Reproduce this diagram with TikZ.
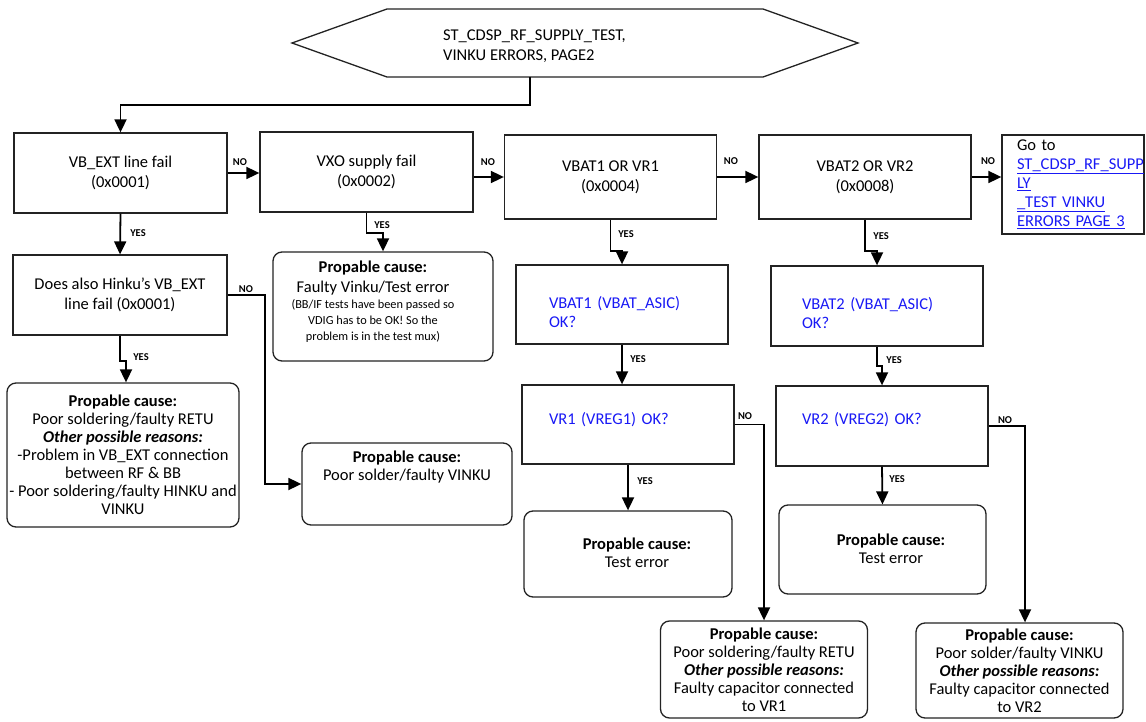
\documentclass[tikz,border=0pt]{standalone}
\usepackage{fontspec}
\setmainfont{Carlito}
\usetikzlibrary{arrows.meta,calc}
\definecolor{linkblue}{RGB}{25,25,245}
\definecolor{frame}{RGB}{35,35,35}
\newcommand\mainsz{\fontsize{16.5}{18}\selectfont}
\newcommand\notesz{\fontsize{12.3}{16}\selectfont}
\newcommand\lnk[1]{\underline{#1}}

\begin{document}
\begin{tikzpicture}[x=1pt,y=-1pt,
  box/.style={draw=frame,line width=1.3pt,inner sep=0pt,align=center,font=\mainsz},
  cause/.style={box,rounded corners=9pt},
  txt/.style={inner sep=0pt,align=center,font=\mainsz},
  bluetxt/.style={inner sep=0pt,align=left,font=\mainsz,text=linkblue},
  arr/.style={draw=black,line width=1.8pt,-{Triangle[width=12pt,length=13pt]}},
  lab/.style={inner sep=0pt,font=\bfseries\fontsize{10.5}{12}\selectfont}]

\useasboundingbox (0,0) rectangle (1146,722);

% start terminator
\draw[draw=frame,line width=1.3pt] (292,43) -- (387,9) -- (763,9) -- (858,43) -- (763,77) -- (387,77) -- cycle;
\node[txt,align=left,anchor=west] (title) at (443,46) {ST\_CDSP\_RF\_SUPPLY\_TEST,\\[2pt]VINKU ERRORS, PAGE2};
\coordinate (hexb) at (530,77);

% first row of checks
\node[box,minimum width=213,minimum height=80] (b1) at (120.5,173) {VB\_EXT line fail\\[2pt](0x0001)};
\node[box,minimum width=213,minimum height=80] (b2) at (366.5,172) {VXO supply fail\\[2pt](0x0002)};
\node[box,minimum width=212,minimum height=84] (b3) at (610.5,177) {VBAT1 OR VR1\\[2pt](0x0004)};
\node[box,minimum width=212,minimum height=84] (b4) at (865,177) {VBAT2 OR VR2\\[2pt](0x0008)};
\node[box,minimum width=142,minimum height=99,text width=112,align=left] (goto) at (1073,184.5)
  {Go to\\[1pt]\textcolor{linkblue}{\lnk{ST\_CDSP\_RF\_SUPP}}\\[1pt]\textcolor{linkblue}{\lnk{LY}}\\[1pt]\textcolor{linkblue}{\lnk{\_TEST VINKU}}\\[1pt]\textcolor{linkblue}{\lnk{ERRORS PAGE 3}}};

% VB_EXT branch
\node[box,minimum width=214,minimum height=80] (hinku) at (120,295) {Does also Hinku’s VB\_EXT\\[2pt]line fail (0x0001)};
\node[cause,minimum width=232,minimum height=144] (retu) at (123,455)
  {\textbf{Propable cause:}\\Poor soldering/faulty RETU\\\textbf{\textit{Other possible reasons:}}\\-Problem in VB\_EXT connection\\between RF \& BB\\- Poor soldering/faulty HINKU and\\VINKU};
\node[cause,minimum width=210,minimum height=82] (vinku) at (407,484) {};
\node[txt] (vinkutxt) at (407,467) {\textbf{Propable cause:}\\Poor solder/faulty VINKU};

% VXO branch
\node[cause,minimum width=220,minimum height=109] (vxo) at (383,306.5) {};
\node[txt,font=\notesz] (vxotxt) at (373,302)
  {\mainsz\textbf{Propable cause:}\\[4pt]\mainsz Faulty Vinku/Test error\\(BB/IF tests have been passed so\\VDIG has to be OK! So the\\problem is in the test mux)};

% VBAT1 / VR1 branch
\node[box,minimum width=212,minimum height=79] (vbat1) at (622,304.5) {};
\node[bluetxt,text width=146] (vbat1txt) at (622,312) {VBAT1 (VBAT\_ASIC)\\[1pt]OK?};
\node[box,minimum width=212,minimum height=79] (vr1) at (628,424.5) {};
\node[bluetxt,text width=158] (vr1txt) at (628,420) {VR1 (VREG1) OK?};
\node[cause,minimum width=208,minimum height=86] (test1) at (628,554) {};
\node[txt] (test1txt) at (637,553) {\textbf{Propable cause:}\\Test error};
\node[cause,minimum width=207,minimum height=97] (bot1) at (764,669.5)
  {\textbf{Propable cause:}\\Poor soldering/faulty RETU\\\textbf{\textit{Other possible reasons:}}\\Faulty capacitor connected\\to VR1};

% VBAT2 / VR2 branch
\node[box,minimum width=212,minimum height=80] (vbat2) at (877,306) {};
\node[bluetxt,text width=150] (vbat2txt) at (877,313) {VBAT2 (VBAT\_ASIC)\\[1pt]OK?};
\node[box,minimum width=212,minimum height=80] (vr2) at (882,426) {};
\node[bluetxt,text width=160] (vr2txt) at (882,420) {VR2 (VREG2) OK?};
\node[cause,minimum width=207,minimum height=89] (test2) at (882.5,549.5) {};
\node[txt] (test2txt) at (891,549) {\textbf{Propable cause:}\\Test error};
\node[cause,minimum width=207,minimum height=95] (bot2) at (1019.5,670.5)
  {\textbf{Propable cause:}\\Poor solder/faulty VINKU\\\textbf{\textit{Other possible reasons:}}\\Faulty capacitor connected\\to VR2};

% connectors
\draw[arr] (hexb) -- ++(0,28) -| (b1.north);
\draw[arr] (b1.east) -- (b1.east -| b2.west);
\draw[arr] (b2.east |- b3.west) -- (b3.west);
\draw[arr] (b3.east) -- (b4.west);
\draw[arr] (b4.east) -- (b4.east -| goto.west);

\draw[arr] (b1.south) -- (hinku.north);
\draw[arr] (hinku.south) -- ++(0,25) -| ([xshift=3pt]retu.north);
\draw[arr] (hinku.east) -- ++(37.5,0) |- (vinku.west);
\draw[arr] (b2.south) -- ++(0,20) -| (vxo.north);

\draw[arr] (b3.south) -- ++(0,31) -| (vbat1.north);
\draw[arr] (vbat1.south) -- (vbat1.south |- vr1.north);
\draw[arr] (vr1.south) -- (test1.north);
\draw[arr] (vr1.east) -| (bot1.north);

\draw[arr] (b4.south) -- ++(0,31) -| (vbat2.north);
\draw[arr] (vbat2.south) -- ++(0,19) -| (vr2.north);
\draw[arr] (vr2.south) -- (test2.north);
\coordinate (vr2no) at (1025,426);
\draw[arr] (vr2.east) -- (vr2no) -- (vr2no |- bot2.north);

% branch labels
\node[lab] (l1) at (240,162) {NO};
\node[lab] (l2) at (488,162) {NO};
\node[lab] (l3) at (731,161) {NO};
\node[lab] (l4) at (988,161) {NO};
\node[lab] (l5) at (138,233) {YES};
\node[lab] (l6) at (382,225) {YES};
\node[lab] (l7) at (626,234) {YES};
\node[lab] (l8) at (881,236) {YES};
\node[lab] (l9) at (141,357) {YES};
\node[lab] (l10) at (246,289) {NO};
\node[lab] (l11) at (638,359) {YES};
\node[lab] (l12) at (745,416) {NO};
\node[lab] (l13) at (894,360) {YES};
\node[lab] (l14) at (1005,420) {NO};
\node[lab] (l15) at (645,481) {YES};
\node[lab] (l16) at (897,479) {YES};
\end{tikzpicture}
\end{document}
